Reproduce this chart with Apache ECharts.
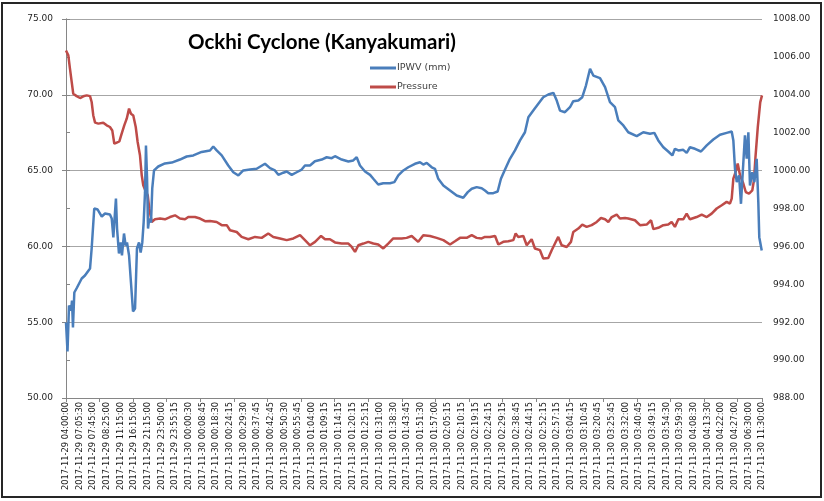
<!DOCTYPE html>
<html>
<head>
<meta charset="utf-8">
<title>Ockhi Cyclone (Kanyakumari)</title>
<script src="https://cdn.jsdelivr.net/npm/echarts@6/dist/echarts.min.js"></script>
<style>
  html, body { margin: 0; padding: 0; background: #ffffff; }
  #frame {
    position: absolute; left: 1px; top: 2px; width: 821px; height: 496px;
    border: 2px solid #262626; box-sizing: border-box; pointer-events: none; z-index: 2;
  }
  #chart { position: absolute; left: 0; top: 0; width: 824px; height: 501px; }
</style>
</head>
<body>
<div id="frame"></div>
<div id="chart"></div>
<script>
// category labels along the bottom (one per index 0..51)
var timeLabels = [
  "2017-11-29 04:00:00", "2017-11-29 07:05:30", "2017-11-29 07:45:00", "2017-11-29 08:25:00",
  "2017-11-29 11:15:00", "2017-11-29 16:15:00", "2017-11-29 21:15:00", "2017-11-29 23:50:00",
  "2017-11-29 23:55:15", "2017-11-30 00:00:30", "2017-11-30 00:08:45", "2017-11-30 00:18:30",
  "2017-11-30 00:24:15", "2017-11-30 00:29:30", "2017-11-30 00:37:45", "2017-11-30 00:42:45",
  "2017-11-30 00:50:30", "2017-11-30 00:55:45", "2017-11-30 01:04:00", "2017-11-30 01:09:15",
  "2017-11-30 01:14:15", "2017-11-30 01:20:15", "2017-11-30 01:25:15", "2017-11-30 01:31:00",
  "2017-11-30 01:38:30", "2017-11-30 01:43:45", "2017-11-30 01:51:30", "2017-11-30 01:57:00",
  "2017-11-30 02:05:15", "2017-11-30 02:10:15", "2017-11-30 02:19:15", "2017-11-30 02:24:15",
  "2017-11-30 02:29:15", "2017-11-30 02:38:45", "2017-11-30 02:44:15", "2017-11-30 02:52:15",
  "2017-11-30 02:57:15", "2017-11-30 03:04:15", "2017-11-30 03:10:45", "2017-11-30 03:20:45",
  "2017-11-30 03:25:45", "2017-11-30 03:32:00", "2017-11-30 03:40:45", "2017-11-30 03:49:15",
  "2017-11-30 03:54:30", "2017-11-30 03:59:30", "2017-11-30 04:08:30", "2017-11-30 04:13:30",
  "2017-11-30 04:22:00", "2017-11-30 04:27:00", "2017-11-30 06:30:00", "2017-11-30 11:30:00"
];

// [position on the label axis, IPWV mm]
var ipwvData = [
  [0, 54.98], [0.11, 53.07], [0.22, 56.10], [0.29, 56.23], [0.37, 55.77], [0.44, 56.43],
  [0.51, 54.65], [0.61, 56.96], [0.81, 57.29], [1.15, 57.88], [1.39, 58.08], [1.76, 58.54],
  [1.88, 59.86], [2.07, 62.50], [2.32, 62.43], [2.62, 61.97], [2.86, 62.17], [3.22, 62.10],
  [3.35, 61.84], [3.47, 60.59], [3.54, 61.58], [3.66, 63.16], [3.74, 61.18], [3.88, 59.53],
  [4.01, 60.26], [4.10, 59.40], [4.25, 60.85], [4.37, 60.06], [4.47, 60.26], [4.62, 59.40],
  [4.76, 57.62], [4.91, 55.71], [5.06, 55.90], [5.20, 59.86], [5.35, 60.26], [5.47, 59.60],
  [5.59, 60.26], [5.69, 61.58], [5.79, 63.56], [5.86, 66.66], [5.94, 64.48], [6.01, 61.18],
  [6.10, 61.84], [6.23, 61.58], [6.32, 63.82], [6.45, 65.01], [6.76, 65.27], [7.25, 65.47],
  [7.75, 65.53], [8.35, 65.73], [8.84, 65.93], [9.33, 66.00], [9.94, 66.23], [10.55, 66.33],
  [10.79, 66.59], [11.04, 66.33], [11.41, 66.00], [11.89, 65.34], [12.26, 64.89], [12.63, 64.68],
  [12.99, 65.01], [13.48, 65.07], [13.97, 65.12], [14.58, 65.45], [14.95, 65.16], [15.31, 65.01],
  [15.56, 64.72], [15.92, 64.86], [16.17, 64.94], [16.54, 64.72], [16.90, 64.89], [17.27, 65.07],
  [17.51, 65.34], [17.88, 65.34], [18.24, 65.62], [18.74, 65.73], [19.10, 65.88], [19.47, 65.82],
  [19.71, 65.95], [20.20, 65.73], [20.69, 65.60], [21.05, 65.67], [21.30, 65.88], [21.54, 65.34],
  [21.91, 64.94], [22.28, 64.72], [22.52, 64.46], [22.88, 64.08], [23.25, 64.17], [23.74, 64.17],
  [24.06, 64.24], [24.35, 64.68], [24.72, 65.01], [25.08, 65.22], [25.57, 65.45], [25.94, 65.55],
  [26.18, 65.40], [26.43, 65.51], [26.80, 65.22], [27.04, 65.12], [27.28, 64.46], [27.65, 64.02],
  [28.14, 63.69], [28.63, 63.36], [29.11, 63.21], [29.44, 63.58], [29.73, 63.80], [30.09, 63.91],
  [30.46, 63.84], [30.70, 63.69], [30.94, 63.51], [31.31, 63.51], [31.63, 63.62], [31.87, 64.46],
  [32.17, 65.07], [32.53, 65.78], [32.90, 66.33], [33.27, 66.99], [33.63, 67.53], [33.88, 68.52],
  [34.24, 68.96], [34.61, 69.41], [34.97, 69.84], [35.34, 70.02], [35.71, 70.13], [35.96, 69.62],
  [36.20, 68.96], [36.56, 68.85], [36.93, 69.18], [37.17, 69.58], [37.54, 69.62], [37.83, 69.84],
  [38.10, 70.61], [38.40, 71.72], [38.64, 71.27], [39.13, 71.10], [39.50, 70.50], [39.86, 69.51],
  [40.23, 69.18], [40.47, 68.31], [40.84, 67.98], [41.20, 67.53], [41.82, 67.27], [42.30, 67.53],
  [42.79, 67.43], [43.11, 67.49], [43.40, 66.99], [43.77, 66.54], [44.13, 66.26], [44.43, 66.00],
  [44.62, 66.44], [44.87, 66.33], [45.23, 66.37], [45.48, 66.17], [45.72, 66.54], [46.09, 66.44],
  [46.53, 66.26], [46.95, 66.66], [47.43, 67.05], [47.92, 67.36], [48.41, 67.49], [48.78, 67.58],
  [48.90, 66.99], [49.02, 65.12], [49.15, 64.24], [49.32, 64.68], [49.46, 62.81], [49.59, 64.89],
  [49.75, 67.32], [49.88, 65.78], [50.00, 67.53], [50.12, 64.02], [50.29, 64.89], [50.44, 64.24],
  [50.61, 65.78], [50.73, 62.92], [50.80, 60.61], [50.93, 60.72], [50.98, 59.73]
];

// [position on the label axis, pressure]
var pressureData = [
  [0, 1006.34], [0.17, 1006.08], [0.29, 1005.38], [0.42, 1004.67], [0.53, 1004.06], [0.78, 1003.93],
  [1.03, 1003.83], [1.27, 1003.92], [1.52, 1003.97], [1.76, 1003.93], [1.88, 1003.62], [2.00, 1002.91],
  [2.13, 1002.53], [2.37, 1002.48], [2.73, 1002.53], [2.98, 1002.39], [3.22, 1002.30], [3.39, 1002.12],
  [3.54, 1001.42], [3.72, 1001.48], [3.91, 1001.54], [4.08, 1001.95], [4.27, 1002.39], [4.45, 1002.74],
  [4.62, 1003.27], [4.76, 1003.00], [4.93, 1002.91], [5.11, 1002.30], [5.25, 1001.51], [5.42, 1000.81],
  [5.55, 999.75], [5.66, 999.23], [5.84, 998.91], [5.99, 998.70], [6.10, 998.00], [6.28, 997.29],
  [6.52, 997.43], [6.89, 997.47], [7.25, 997.43], [7.62, 997.55], [7.99, 997.64], [8.35, 997.47],
  [8.72, 997.43], [8.96, 997.55], [9.45, 997.55], [9.82, 997.47], [10.19, 997.33], [10.55, 997.34],
  [11.04, 997.29], [11.41, 997.12], [11.78, 997.12], [12.02, 996.85], [12.51, 996.76], [12.87, 996.50],
  [13.36, 996.38], [13.85, 996.50], [14.34, 996.45], [14.82, 996.68], [15.19, 996.50], [15.68, 996.42],
  [16.17, 996.33], [16.66, 996.42], [17.15, 996.59], [17.51, 996.33], [17.88, 996.06], [18.25, 996.24],
  [18.69, 996.55], [18.98, 996.38], [19.34, 996.38], [19.71, 996.21], [20.20, 996.15], [20.69, 996.15],
  [20.94, 995.97], [21.18, 995.71], [21.42, 996.06], [21.79, 996.15], [22.15, 996.24], [22.52, 996.15],
  [22.88, 996.10], [23.25, 995.89], [23.61, 996.15], [23.98, 996.42], [24.60, 996.42], [24.96, 996.45],
  [25.33, 996.55], [25.81, 996.24], [26.18, 996.59], [26.67, 996.55], [27.16, 996.45], [27.65, 996.33],
  [28.14, 996.10], [28.50, 996.27], [28.87, 996.45], [29.36, 996.45], [29.73, 996.59], [30.09, 996.45],
  [30.46, 996.42], [30.70, 996.50], [31.07, 996.50], [31.44, 996.55], [31.68, 996.10], [32.04, 996.24],
  [32.41, 996.27], [32.78, 996.33], [32.95, 996.68], [33.14, 996.50], [33.51, 996.55], [33.76, 996.06],
  [34.12, 996.38], [34.36, 995.89], [34.73, 995.80], [34.97, 995.36], [35.34, 995.39], [35.59, 995.80],
  [35.83, 996.15], [36.07, 996.50], [36.32, 996.06], [36.69, 995.97], [37.00, 996.24], [37.17, 996.76],
  [37.54, 996.94], [37.83, 997.15], [38.15, 997.03], [38.52, 997.12], [38.89, 997.29], [39.20, 997.50],
  [39.50, 997.43], [39.74, 997.29], [39.99, 997.55], [40.35, 997.68], [40.59, 997.47], [40.96, 997.50],
  [41.20, 997.47], [41.69, 997.38], [42.06, 997.12], [42.55, 997.15], [42.87, 997.38], [43.04, 996.91],
  [43.40, 996.98], [43.77, 997.12], [44.13, 997.15], [44.38, 997.29], [44.62, 997.03], [44.87, 997.43],
  [45.23, 997.43], [45.48, 997.73], [45.72, 997.43], [46.21, 997.55], [46.58, 997.68], [46.95, 997.55],
  [47.31, 997.73], [47.68, 998.00], [48.05, 998.17], [48.41, 998.35], [48.65, 998.26], [48.78, 998.52],
  [48.90, 999.58], [49.07, 999.93], [49.22, 1000.37], [49.39, 999.75], [49.63, 999.32], [49.81, 998.87],
  [50.05, 998.79], [50.29, 998.96], [50.41, 999.49], [50.52, 1000.70], [50.69, 1002.28], [50.87, 1003.60],
  [51.0, 1003.97]
];

var ipwvTicks = { min: 50, max: 75, step: 5 };
var pressureTicks = { min: 988, max: 1008, step: 2 };

var myChart = echarts.init(document.getElementById("chart"), null, { renderer: "canvas" });

myChart.setOption({
  animation: false,
  backgroundColor: "#ffffff",
  title: {
    text: "Ockhi Cyclone (Kanyakumari)",
    left: 183,
    top: 27,
    textStyle: { fontFamily: "Lato", fontWeight: "bold", fontSize: 20.5, color: "#000000" }
  },
  legend: {
    orient: "vertical",
    left: 370,
    top: 63,
    padding: 0,
    itemGap: 9,
    itemWidth: 26,
    itemHeight: 3,
    icon: "rect",
    textStyle: { fontFamily: "DejaVu Sans", fontSize: 9.5, color: "#404040", padding: [0, 0, 0, -4] },
    data: ["IPWV (mm)", "Pressure"]
  },
  grid: { left: 66, right: 62, top: 19, bottom: 103, containLabel: false },
  xAxis: [
    {
      type: "value",
      min: 0,
      max: 51,
      interval: 1,
      axisLine: { show: true, lineStyle: { color: "#868686", width: 1 } },
      axisTick: { show: false },
      splitLine: { show: false },
      axisLabel: {
        rotate: 90,
        margin: 4,
        fontFamily: "DejaVu Sans",
        fontSize: 8.3,
        color: "#1a1a1a",
        formatter: function (v) { return timeLabels[Math.round(v)] || ""; }
      }
    },
    {
      // Excel draws its tick marks on a different step than the labels
      type: "value",
      position: "bottom",
      min: 0,
      max: 51,
      interval: 2.4608,
      axisLine: { show: false },
      axisTick: { show: true, length: 4, lineStyle: { color: "#868686" } },
      axisLabel: { show: false },
      splitLine: { show: false }
    }
  ],
  yAxis: [
    {
      type: "value",
      min: ipwvTicks.min,
      max: ipwvTicks.max,
      interval: ipwvTicks.step,
      axisLine: { show: true, lineStyle: { color: "#868686" } },
      axisTick: { show: true, length: 4, lineStyle: { color: "#868686" } },
      splitLine: { show: true, lineStyle: { color: "#a6a6a6", width: 1 } },
      axisLabel: {
        margin: 13,
        fontFamily: "DejaVu Sans",
        fontSize: 9,
        color: "#262626",
        formatter: function (v) { return v.toFixed(2); }
      }
    },
    {
      type: "value",
      position: "right",
      min: pressureTicks.min,
      max: pressureTicks.max,
      interval: pressureTicks.step,
      axisLine: { show: true, lineStyle: { color: "#868686" } },
      axisTick: { show: true, length: 4, lineStyle: { color: "#868686" } },
      splitLine: { show: false },
      axisLabel: {
        margin: 11,
        fontFamily: "DejaVu Sans",
        fontSize: 9,
        color: "#262626",
        formatter: function (v) { return v.toFixed(2); }
      }
    }
  ],
  series: [
    {
      name: "IPWV (mm)",
      type: "line",
      xAxisIndex: 0,
      yAxisIndex: 0,
      data: ipwvData,
      showSymbol: false,
      symbol: "none",
      lineStyle: { color: "#4a7ebb", width: 2.5 },
      itemStyle: { color: "#4a7ebb" },
      z: 3
    },
    {
      name: "Pressure",
      type: "line",
      xAxisIndex: 0,
      yAxisIndex: 1,
      data: pressureData,
      showSymbol: false,
      symbol: "none",
      lineStyle: { color: "#be4b48", width: 2.5 },
      itemStyle: { color: "#be4b48" },
      z: 2
    }
  ]
});
</script>
</body>
</html>
